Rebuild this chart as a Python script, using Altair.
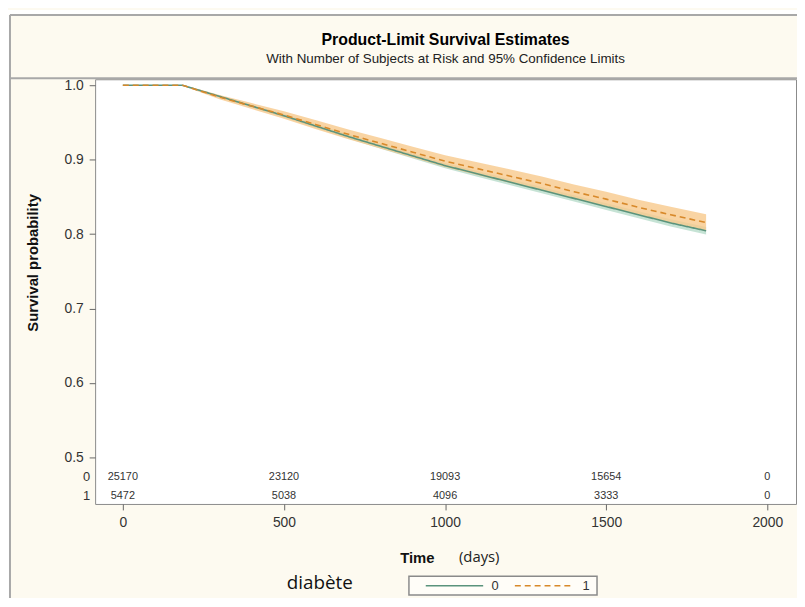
import altair as alt
import pandas as pd

# ---- data ----
times = [0, 185, 200, 300, 400, 500, 600, 700, 800, 900, 1000, 1100, 1200, 1300, 1400, 1500, 1600, 1700, 1810]
surv0 = [1.0, 1.0, 0.998, 0.985, 0.972, 0.959, 0.945, 0.931, 0.918, 0.905, 0.892, 0.881, 0.870, 0.859, 0.848, 0.837, 0.826, 0.815, 0.8045]
lo0 = [1.0, 1.0, 0.9975, 0.9837, 0.9702, 0.9568, 0.9424, 0.928, 0.9148, 0.9016, 0.8884, 0.8772, 0.866, 0.8548, 0.8437, 0.8325, 0.8214, 0.8102, 0.7995]
hi0 = [1.0, 1.0, 0.9985, 0.9863, 0.9738, 0.9612, 0.9476, 0.934, 0.9212, 0.9084, 0.8956, 0.8848, 0.874, 0.8632, 0.8523, 0.8415, 0.8306, 0.8198, 0.8095]
surv1 = [1.0, 1.0, 0.998, 0.984, 0.972, 0.960, 0.947, 0.934, 0.922, 0.910, 0.898, 0.888, 0.878, 0.868, 0.857, 0.847, 0.836, 0.826, 0.8155]
lo1 = [1.0, 1.0, 0.997, 0.981, 0.968, 0.955, 0.941, 0.9275, 0.915, 0.9025, 0.890, 0.8795, 0.869, 0.8587, 0.8474, 0.837, 0.8257, 0.8153, 0.8043]
hi1 = [1.0, 1.0, 0.999, 0.987, 0.976, 0.965, 0.953, 0.9405, 0.929, 0.9175, 0.906, 0.8965, 0.887, 0.8773, 0.8666, 0.857, 0.8463, 0.8367, 0.8267]

risk_times = [0, 500, 1000, 1500, 2000]
risk0 = [25170, 23120, 19093, 15654, 0]
risk1 = [5472, 5038, 4096, 3333, 0]

x_ticks = [0, 500, 1000, 1500, 2000]
y_ticks = [0.5, 0.6, 0.7, 0.8, 0.9, 1.0]

groups = ["0", "1"]
line_colors = ["#5a937c", "#d8892a"]
band_colors = ["#b8dccb", "#f7c98c"]

# ---- tables ----
curves = pd.concat([
    pd.DataFrame({"time": times, "surv": surv0, "lo": lo0, "hi": hi0, "group": "0"}),
    pd.DataFrame({"time": times, "surv": surv1, "lo": lo1, "hi": hi1, "group": "1"}),
], ignore_index=True)
risk_df0 = pd.DataFrame({"time": risk_times, "n": [str(v) for v in risk0]})
risk_df1 = pd.DataFrame({"time": risk_times, "n": [str(v) for v in risk1]})

FONT = "Liberation Sans"
CREAM = "#fdfaf0"
FRAME = "#a8a8a8"

xscale = alt.Scale(domain=[-86, 2089], nice=False, zero=False)
yscale = alt.Scale(domain=[0.4375, 1.008], nice=False, zero=False)

xaxis = alt.Axis(values=x_ticks, format="d", title="Time", titleFont=FONT, titleFontSize=15,
                 titleFontWeight="bold", titleColor="#111", titleX=325, titleY=54,
                 titleBaseline="middle", titleAlign="center",
                 labelFont=FONT, labelFontSize=14, labelColor="#333", labelPadding=6,
                 tickColor="#666", tickSize=6, domain=False, grid=False)
yaxis = alt.Axis(values=y_ticks, format=".1f", title="Survival probability", titleFont=FONT,
                 titleFontSize=15, titleFontWeight="bold", titleColor="#111",
                 titleX=-63, titleY=185, titleAngle=270, titleBaseline="middle", titleAlign="center",
                 labelFont=FONT, labelFontSize=14, labelColor="#333", labelPadding=6,
                 tickColor="#666", tickSize=6, domain=False, grid=False)

color_scale = alt.Scale(domain=groups, range=line_colors)
band_scale = alt.Scale(domain=groups, range=band_colors)
dash_scale = alt.Scale(domain=groups, range=[[1, 0], [6, 4]])

bands = alt.Chart(curves).mark_area(opacity=0.8).encode(
    x=alt.X("time:Q", scale=xscale, axis=xaxis),
    y=alt.Y("lo:Q", scale=yscale, axis=yaxis),
    y2="hi:Q",
    fill=alt.Fill("group:N", scale=band_scale, legend=None),
    detail="group:N",
)

lines = alt.Chart(curves).mark_line(strokeWidth=1.6).encode(
    x=alt.X("time:Q", scale=xscale),
    y=alt.Y("surv:Q", scale=yscale),
    color=alt.Color("group:N", scale=color_scale, legend=None),
    strokeDash=alt.StrokeDash("group:N", scale=dash_scale, legend=None),
)

risk_row0 = alt.Chart(risk_df0).mark_text(font=FONT, fontSize=11, color="#333", baseline="middle").encode(
    x=alt.X("time:Q", scale=xscale), y=alt.value(402), text="n:N")
risk_row1 = alt.Chart(risk_df1).mark_text(font=FONT, fontSize=11, color="#333", baseline="middle").encode(
    x=alt.X("time:Q", scale=xscale), y=alt.value(421), text="n:N")

row_labels = alt.Chart(pd.DataFrame({"lab": groups, "py": [402, 421]})).mark_text(
    font=FONT, fontSize=13, color="#333", align="right", baseline="middle").encode(
    x=alt.value(-5), y=alt.Y("py:Q", scale=None), text="lab:N")

# ---- decorations: frame, titles, legend ----
frame_df = pd.DataFrame({"x": [-86, -86, -86], "x2": [-86, 712, 712], "y": [-65, -65, -1], "y2": [560, -65, -1]})
frame = alt.Chart(frame_df).mark_rule(color=FRAME, strokeWidth=2).encode(
    x=alt.X("x:Q", scale=None), x2="x2:Q", y=alt.Y("y:Q", scale=None), y2="y2:Q")

white_df = pd.DataFrame({"x": [-90, -90], "x2": [-87, 712], "y": [-70, -70], "y2": [560, -66]})
white_strips = alt.Chart(white_df).mark_rect(color="white").encode(
    x=alt.X("x:Q", scale=None), x2="x2:Q", y=alt.Y("y:Q", scale=None), y2="y2:Q")

title_df = pd.DataFrame({"t": ["Product-Limit Survival Estimates"], "px": [354], "py": [-40]})
sub_df = pd.DataFrame({"t": ["With Number of Subjects at Risk and 95% Confidence Limits"], "px": [354], "py": [-20]})
title_txt = alt.Chart(title_df).mark_text(font=FONT, fontSize=16, fontWeight="bold",
                                          color="#000", baseline="middle").encode(
    x=alt.X("px:Q", scale=None), y=alt.Y("py:Q", scale=None), text="t:N")
sub_txt = alt.Chart(sub_df).mark_text(font=FONT, fontSize=13.5, color="#222",
                                      baseline="middle").encode(
    x=alt.X("px:Q", scale=None), y=alt.Y("py:Q", scale=None), text="t:N")

days_txt = alt.Chart(pd.DataFrame({"t": ["(days)"], "px": [388], "py": [483]})).mark_text(
    font="Open Sans", fontSize=15, color="#222", baseline="middle").encode(
    x=alt.X("px:Q", scale=None), y=alt.Y("py:Q", scale=None), text="t:N")

diab_txt = alt.Chart(pd.DataFrame({"t": ["diabète"], "px": [227], "py": [509]})).mark_text(
    font="Open Sans", fontSize=19, color="#111", baseline="middle").encode(
    x=alt.X("px:Q", scale=None), y=alt.Y("py:Q", scale=None), text="t:N")

legend_box = alt.Chart(pd.DataFrame({"x": [317], "x2": [507], "y": [502], "y2": [521]})).mark_rect(
    fill="#fffdf8", stroke="#8a8a8a", strokeWidth=1.5).encode(
    x=alt.X("x:Q", scale=None), x2="x2:Q", y=alt.Y("y:Q", scale=None), y2="y2:Q")

leg_lines_df = pd.DataFrame({"group": groups, "x": [334, 424], "x2": [392, 481], "y": [511.5, 511.5]})
legend_lines = alt.Chart(leg_lines_df).mark_rule(strokeWidth=1.5).encode(
    x=alt.X("x:Q", scale=None), x2="x2:Q", y=alt.Y("y:Q", scale=None),
    color=alt.Color("group:N", scale=color_scale, legend=None),
    strokeDash=alt.StrokeDash("group:N", scale=dash_scale, legend=None))

leg_lab_df = pd.DataFrame({"group": groups, "x": [404, 496], "y": [511.5, 511.5]})
legend_labels = alt.Chart(leg_lab_df).mark_text(font=FONT, fontSize=13, color="#333",
                                                baseline="middle").encode(
    x=alt.X("x:Q", scale=None), y=alt.Y("y:Q", scale=None), text="group:N")

chart = alt.layer(
    bands, lines, risk_row0, risk_row1, row_labels,
    white_strips, frame, title_txt, sub_txt, days_txt, diab_txt,
    legend_box, legend_lines, legend_labels,
).resolve_scale(color="shared").properties(
    width=708, height=429,
    autosize=alt.AutoSizeParams(type="none"),
    padding={"left": 88, "top": 69, "right": 1, "bottom": 92},
    background=CREAM,
).configure_view(fill="white", stroke="#8a8a8a", strokeWidth=1)

chart.save("out.html", embed_options={"renderer": "svg", "actions": False})
